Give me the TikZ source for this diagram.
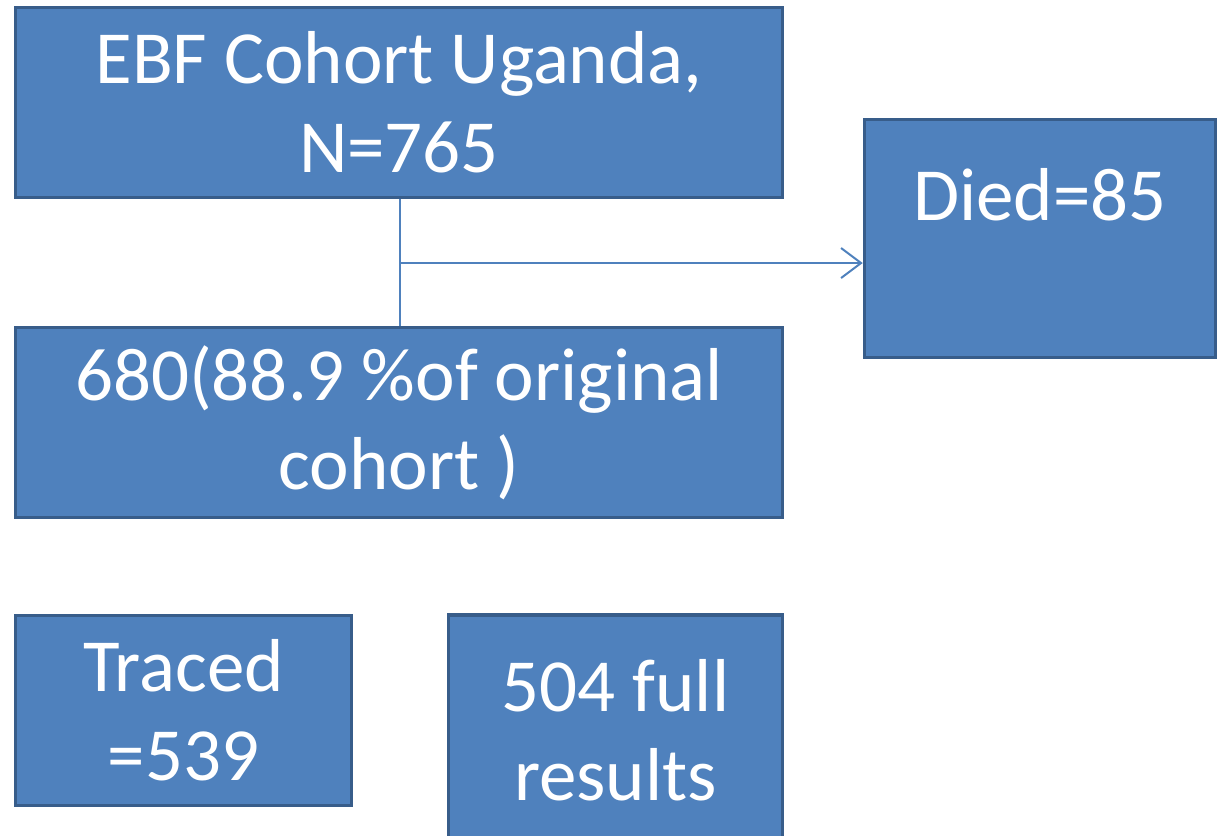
\documentclass[tikz,border=0pt]{standalone}
\usepackage{fontspec}
\setmainfont{Carlito}
\usetikzlibrary{arrows.meta,positioning}

\definecolor{boxfill}{HTML}{4F81BD}
\definecolor{boxline}{HTML}{385D8A}

\begin{document}
\begin{tikzpicture}[
	x = 0.5pt, y = -0.5pt, % one unit = one pixel of the slide
	> = {Straight Barb[length=10pt, width=15pt, line width=1pt]}, % open arrow head
	B/.style={rectangle, draw=boxline, fill=boxfill, line width=1.75pt, text=white,
	          align=center, inner sep=0pt, font=\fontsize{37.5}{44.5}\selectfont},
	L/.style={draw=boxfill, line width=1pt},
	]

	\useasboundingbox (0,0) rectangle (1223,836);

	% Boxes of the flow
	\node[B, minimum width=383.5pt, minimum height=95pt] (cohort) at (399,102.5) {EBF Cohort Uganda,\\N=765};
	\node[B, minimum width=383.5pt, minimum height=95pt] (alive)  at (399,422.5) {680(88.9 \%of original\\cohort )};
	\node[B, minimum width=175.5pt, minimum height=119pt] (died)  at (1040,238.5) {Died=85\\\mbox{}};
	\node[B, minimum width=168pt, minimum height=95pt] (traced)   at (183.5,710.5) {Traced\\=539};
	\node[B, minimum width=167pt, minimum height=115pt] (full)    at (615.5,730) {504 full\\results};

	\coordinate (split) at (400,263);

	% Paths connecting boxes
	\draw[L] (cohort.south -| split) -- (alive.north -| split);
	\draw[L, ->] (split) -- (split -| died.west);

\end{tikzpicture}
\end{document}
